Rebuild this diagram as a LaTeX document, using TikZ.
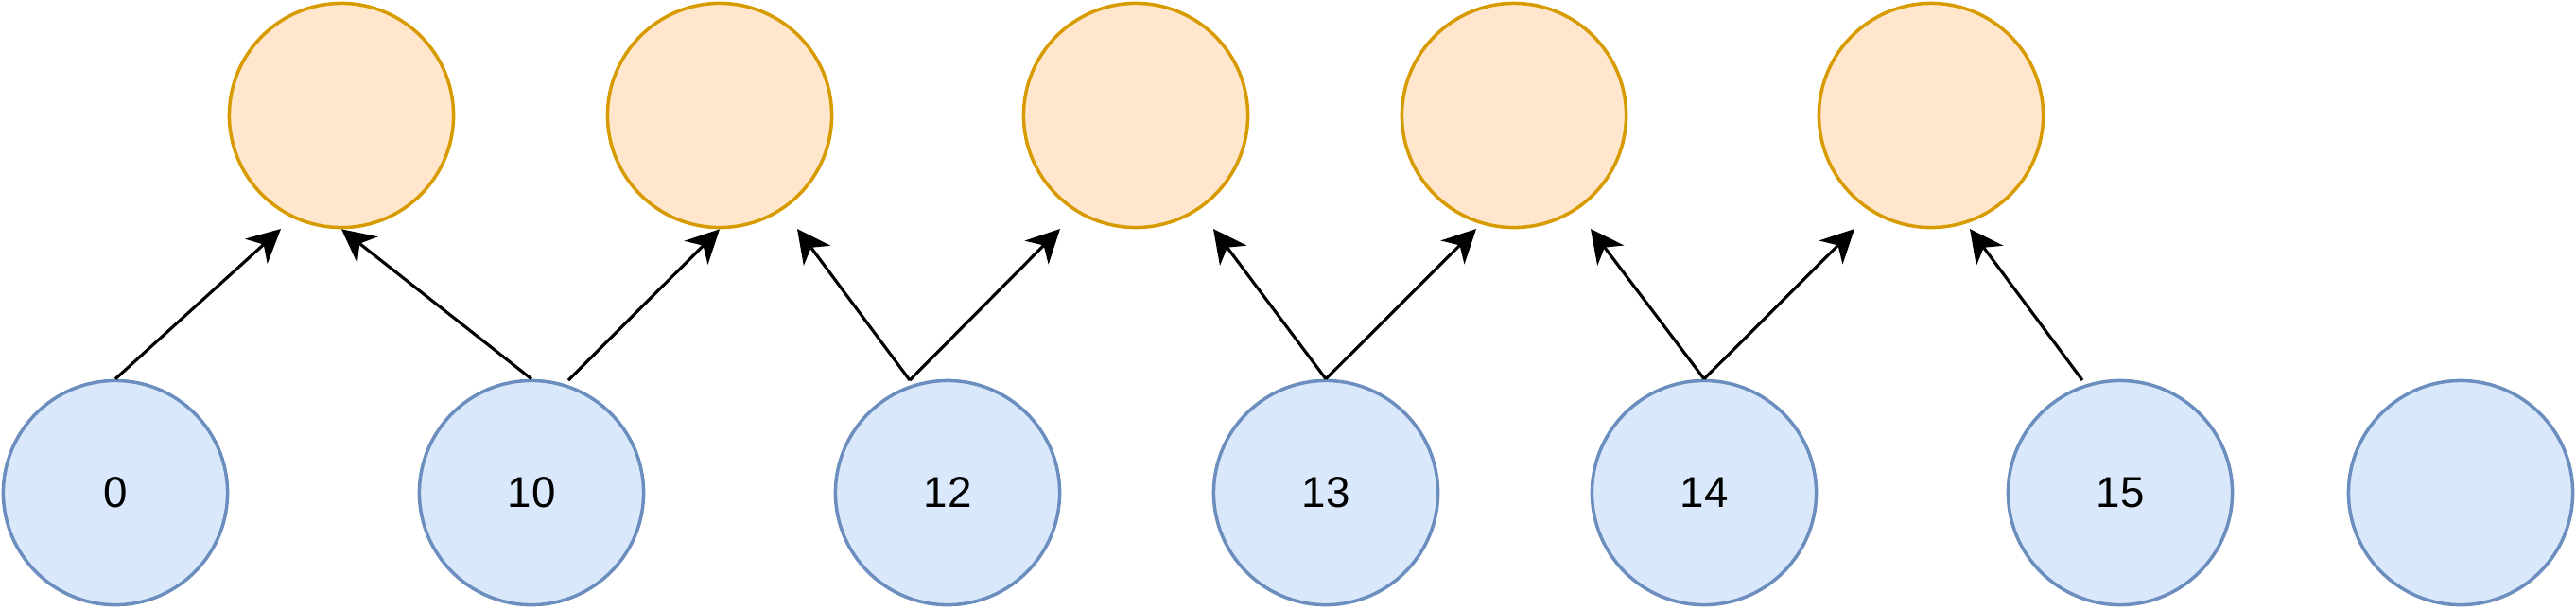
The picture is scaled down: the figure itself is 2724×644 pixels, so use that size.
\documentclass[tikz,border=0pt]{standalone}
\usepackage{fontspec}
\setmainfont{Liberation Sans}
\usetikzlibrary{arrows.meta}
\definecolor{ofill}{HTML}{FFE6CC}
\definecolor{odraw}{HTML}{D79B00}
\definecolor{bfill}{HTML}{DAE8FC}
\definecolor{bdraw}{HTML}{6C8EBF}
\tikzset{
  topc/.style={circle, draw=odraw, fill=ofill, line width=1pt, minimum size=2.37cm, inner sep=0pt},
  botc/.style={circle, draw=bdraw, fill=bfill, line width=1pt, minimum size=2.37cm, inner sep=0pt, font=\fontsize{13pt}{15pt}\selectfont},
  conn/.style={line width=0.9pt, -{Stealth[length=10pt, width=10pt, inset=3pt]}}
}
\begin{document}
\begin{tikzpicture}[x=0.01cm, y=-0.01cm]
\useasboundingbox (0,0) rectangle (2724,644);
% top circles
\node[topc] (t1) at (361,122) {};
\node[topc] (t2) at (761,122) {};
\node[topc] (t3) at (1201,122) {};
\node[topc] (t4) at (1601,122) {};
\node[topc] (t5) at (2042,122) {};
% bottom circles
\node[botc] (b0) at (122,521) {0};
\node[botc] (b10) at (562,521) {10};
\node[botc] (b12) at (1002,521) {12};
\node[botc] (b13) at (1402,521) {13};
\node[botc] (b14) at (1802,521) {14};
\node[botc] (b15) at (2242,521) {15};
\node[botc] (b16) at (2602,521) {};
% free ends
\coordinate (e1) at (297,242);
\coordinate (s3) at (601,402);
\coordinate (s4) at (962,402);
\coordinate (e4) at (843,242);
\coordinate (e5) at (1121,242);
\coordinate (e6) at (1283,242);
\coordinate (e7) at (1561,242);
\coordinate (e8) at (1682,242);
\coordinate (e9) at (1961,242);
\coordinate (s10) at (2202,402);
\coordinate (e10) at (2083,242);
% connectors
\draw[conn] (b0.north) -- (e1);
\draw[conn] (b10.north) -- (t1.south);
\draw[conn] (s3) -- (t2.south);
\draw[conn] (s4) -- (e4);
\draw[conn] (s4) -- (e5);
\draw[conn] (b13.north) -- (e6);
\draw[conn] (b13.north) -- (e7);
\draw[conn] (b14.north) -- (e8);
\draw[conn] (b14.north) -- (e9);
\draw[conn] (s10) -- (e10);
\end{tikzpicture}
\end{document}
